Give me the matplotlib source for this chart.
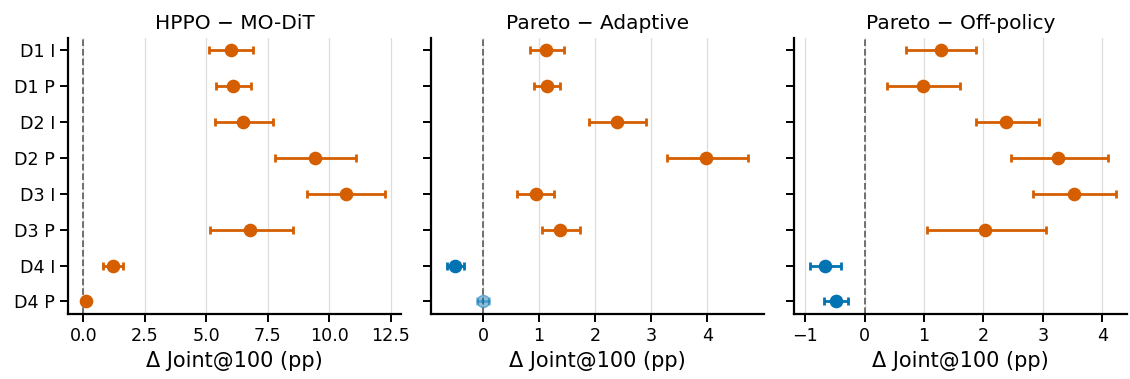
import matplotlib

matplotlib.use("Agg")
import matplotlib.pyplot as plt

ORANGE = "#D55E00"
BLUE = "#0173B2"

labels = ["D1 I", "D1 P", "D2 I", "D2 P", "D3 I", "D3 P", "D4 I", "D4 P"]
titles = ["HPPO \u2212 MO-DiT", "Pareto \u2212 Adaptive", "Pareto \u2212 Off-policy"]

# point estimate, lower and upper CI bound, per panel
hppo_mean = [6.01, 6.10, 6.49, 9.42, 10.68, 6.76, 1.19, 0.12]
hppo_lo = [5.10, 5.40, 5.34, 7.78, 9.09, 5.16, 0.79, 0.12]
hppo_hi = [6.89, 6.81, 7.73, 11.11, 12.29, 8.52, 1.61, 0.12]

adapt_mean = [1.13, 1.14, 2.38, 3.98, 0.95, 1.37, -0.49, 0.00]
adapt_lo = [0.84, 0.90, 1.89, 3.27, 0.60, 1.05, -0.65, -0.10]
adapt_hi = [1.44, 1.38, 2.91, 4.73, 1.27, 1.73, -0.33, 0.11]

offp_mean = [1.29, 0.98, 2.38, 3.25, 3.53, 2.03, -0.66, -0.48]
offp_lo = [0.69, 0.37, 1.87, 2.47, 2.83, 1.05, -0.92, -0.68]
offp_hi = [1.88, 1.60, 2.93, 4.10, 4.23, 3.05, -0.39, -0.28]

# which points are drawn faded (not significant)
adapt_faded = [False] * 7 + [True]

panels = [
    (hppo_mean, hppo_lo, hppo_hi, [False] * 8),
    (adapt_mean, adapt_lo, adapt_hi, adapt_faded),
    (offp_mean, offp_lo, offp_hi, [False] * 8),
]

fig, axes = plt.subplots(1, 3, figsize=(11.3, 3.79), dpi=100, sharey=True)
fig.subplots_adjust(left=0.0605, right=0.997, top=0.901, bottom=0.1715, wspace=0.093)

for ax, title, (mean, lo, hi, faded) in zip(axes, titles, panels):
    ax.axvline(0, color="#666666", linestyle="--", linewidth=1.3, zorder=1)
    for i, (m, l, h, f) in enumerate(zip(mean, lo, hi, faded)):
        color = ORANGE if m > 0 else BLUE
        alpha = 0.45 if f else 1.0
        ax.errorbar(
            m, i, xerr=[[m - l], [h - m]], fmt="o", color=color, ecolor=color,
            markersize=8.8, elinewidth=2, capsize=3.2, capthick=2, alpha=alpha, zorder=3,
        )
    ax.set_title(title, fontsize=14.5)
    ax.set_xlabel("\u0394 Joint@100 (pp)", fontsize=15)
    ax.grid(axis="x", color="#dddddd", linewidth=0.9, zorder=0)
    ax.set_axisbelow(True)
    ax.spines["top"].set_visible(False)
    ax.spines["right"].set_visible(False)
    ax.spines["left"].set_linewidth(1.6)
    ax.spines["bottom"].set_linewidth(1.6)
    ax.tick_params(labelsize=12.6, width=1.4, length=6)

axes[0].set_yticks(range(len(labels)))
axes[0].set_yticklabels(labels)
axes[0].invert_yaxis()
axes[0].set_xticks([0, 2.5, 5, 7.5, 10, 12.5])
axes[1].set_xticks([0, 1, 2, 3, 4])
axes[2].set_xticks([-1, 0, 1, 2, 3, 4])
axes[2].set_xlim(-1.18, 4.41)

fig.savefig("out.png", dpi=100)
